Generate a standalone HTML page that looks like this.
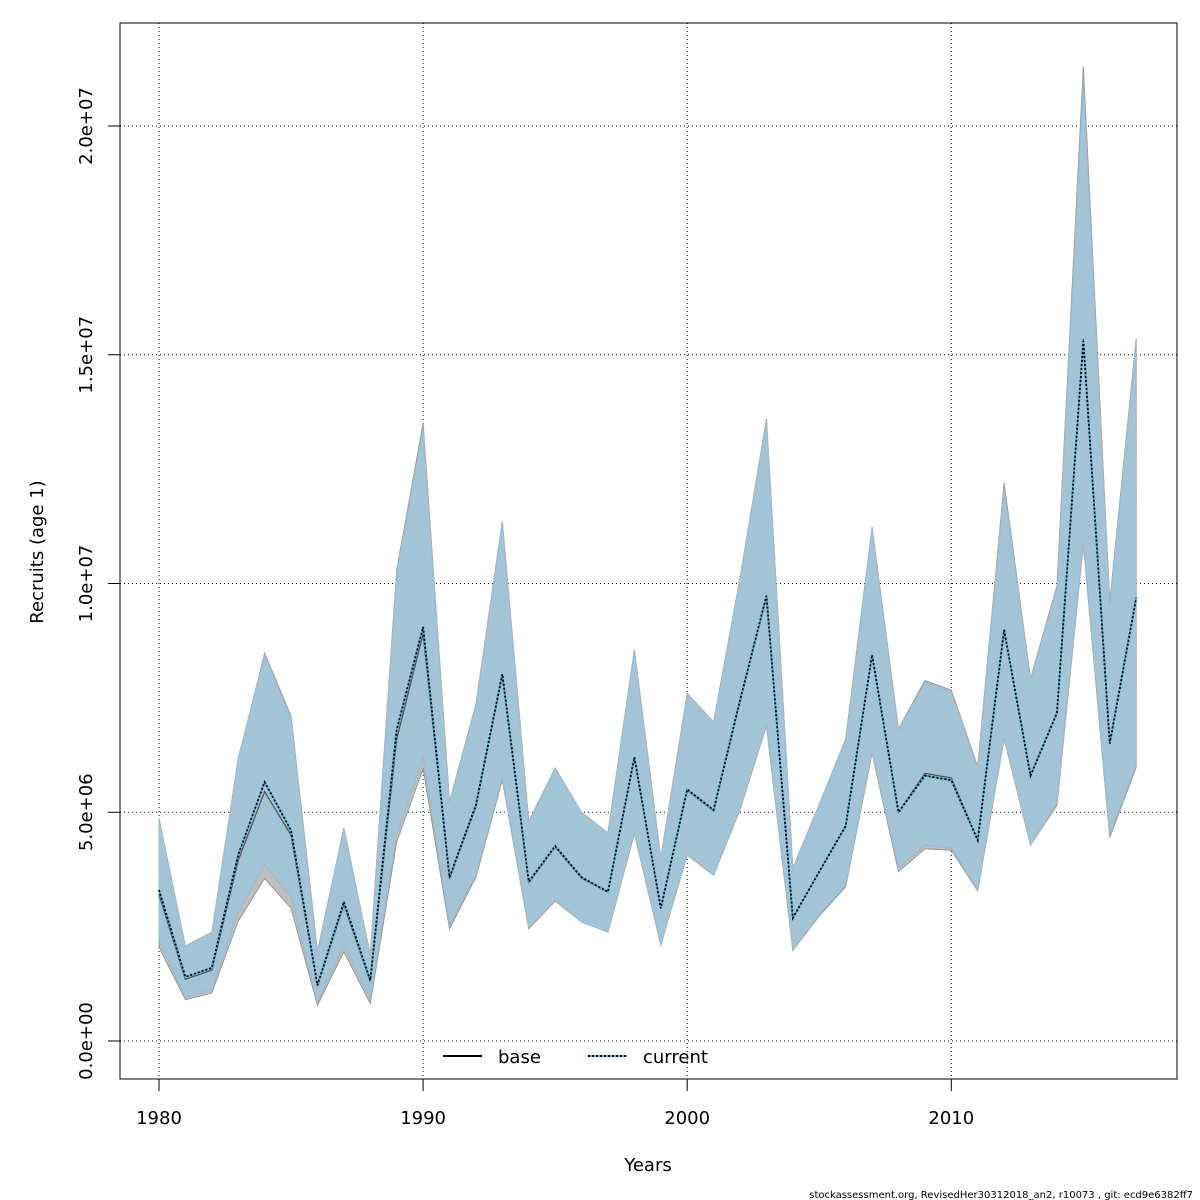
<!DOCTYPE html>
<html><head><meta charset="utf-8"><style>
html,body{margin:0;padding:0;background:#fff;}
svg{display:block;font-family:"DejaVu Sans","Liberation Sans",sans-serif;}
</style></head><body>
<svg id="chart" width="1200" height="1200" viewBox="0 0 1200 1200" xmlns="http://www.w3.org/2000/svg">
<g id="grid"></g>
<g id="bands"></g>
<g id="lines"></g>
<g id="axes"></g>
<rect x="120" y="23" width="1057" height="1056" fill="none" stroke="#000" stroke-width="1"/>
<text x="648" y="1171" font-size="18" text-anchor="middle">Years</text>
<text transform="translate(43,552) rotate(-90)" font-size="18" text-anchor="middle">Recruits (age 1)</text>
<g>
<line x1="443" y1="1056" x2="482" y2="1056" stroke="#000" stroke-width="2"/>
<text x="498" y="1063" font-size="18">base</text>
<line x1="588" y1="1056" x2="627" y2="1056" stroke="#4fb3e0" stroke-width="2"/>
<line x1="588" y1="1056" x2="627" y2="1056" stroke="#000" stroke-width="2" stroke-dasharray="2,2"/>
<text x="643" y="1063" font-size="18">current</text>
</g>
<text x="1193" y="1198" font-size="10" text-anchor="end">stockassessment.org, RevisedHer30312018_an2, r10073 , git: ecd9e6382ff7</text>
</svg>
<script>
const years=[1980,1981,1982,1983,1984,1985,1986,1987,1988,1989,1990,1991,1992,1993,1994,1995,1996,1997,1998,1999,2000,2001,2002,2003,2004,2005,2006,2007,2008,2009,2010,2011,2012,2013,2014,2015,2016,2017];
const currentEst=[3.3,1.4,1.6,4.07,5.66,4.6,1.22,3.04,1.33,6.8,9.05,3.58,5.16,8.02,3.48,4.26,3.58,3.26,6.2,2.9,5.5,5.05,7.45,9.73,2.69,3.7,4.7,8.44,5.0,5.8,5.7,4.39,8.98,5.8,7.17,15.3,6.5,9.68];
const currentHigh=[4.87,2.08,2.38,6.19,8.44,7.06,1.95,4.66,1.88,10.25,13.4,5.22,7.34,11.34,4.79,5.97,5.0,4.55,8.55,4.0,7.6,6.97,10.12,13.57,3.78,5.16,6.58,11.21,6.8,7.83,7.63,5.97,12.1,7.89,9.9,21.0,9.53,15.3];
const currentLow=[2.2,0.95,1.12,2.8,3.85,3.15,0.83,2.1,0.9,4.5,6.2,2.54,3.63,5.75,2.47,3.08,2.6,2.38,4.55,2.1,4.07,3.63,5.05,6.9,1.99,2.75,3.41,6.3,3.78,4.28,4.22,3.3,6.62,4.28,5.2,10.9,4.5,6.03];
const baseEst=[3.2,1.35,1.55,3.95,5.45,4.5,1.2,2.98,1.3,6.6,8.9,3.55,5.12,7.98,3.46,4.24,3.56,3.25,6.18,2.9,5.48,5.03,7.42,9.7,2.68,3.7,4.68,8.42,5.0,5.85,5.75,4.4,9.0,5.82,7.18,15.35,6.55,9.7];
const baseHigh=[4.85,2.05,2.36,6.15,8.48,7.1,1.95,4.65,1.88,10.3,13.5,5.23,7.36,11.36,4.8,5.97,5.0,4.55,8.55,4.0,7.6,6.97,10.12,13.6,3.78,5.17,6.6,11.23,6.82,7.88,7.67,6.0,12.2,7.92,9.95,21.3,9.6,15.35];
const baseLow=[2.05,0.9,1.05,2.62,3.55,2.9,0.78,1.95,0.82,4.35,5.95,2.45,3.58,5.7,2.45,3.06,2.6,2.38,4.53,2.1,4.06,3.62,5.05,6.88,1.98,2.73,3.37,6.28,3.7,4.2,4.17,3.28,6.6,4.28,5.15,10.85,4.45,5.98];
const xTicks=[1980,1990,2000,2010];
const yTicks=[0,5,10,15,20];
const yTickLabels=["0.0e+00","5.0e+06","1.0e+07","1.5e+07","2.0e+07"];

const X=y=>159+(y-1980)*26.41;
const Y=v=>1041-v*45.75;
const NS="http://www.w3.org/2000/svg";
function mk(parent,tag,attrs){const e=document.createElementNS(NS,tag);for(const k in attrs)e.setAttribute(k,attrs[k]);parent.appendChild(e);return e;}
const grid=document.getElementById('grid'),bands=document.getElementById('bands'),lines=document.getElementById('lines'),axes=document.getElementById('axes');
xTicks.forEach(t=>{
  const l=mk(grid,'line',{x1:X(t),x2:X(t),y1:23,y2:1079,stroke:'#000','stroke-width':1,'stroke-dasharray':'1,3'});
  
  
  const tk=mk(axes,'line',{x1:X(t),x2:X(t),y1:1079,y2:1091,stroke:'#000'});
  
  
  const tx=mk(axes,'text',{x:X(t),y:1124,'font-size':18,'text-anchor':'middle'});tx.textContent=t;
  
  
});
mk(axes,'line',{x1:X(1980),x2:X(2010),y1:1079,y2:1079,stroke:'#000'});
yTicks.forEach((t,i)=>{
  const l=mk(grid,'line',{x1:120,x2:1177,y1:Y(t),y2:Y(t),stroke:'#000','stroke-width':1,'stroke-dasharray':'1,3'});
  
  
  const tk=mk(axes,'line',{x1:108,x2:120,y1:Y(t),y2:Y(t),stroke:'#000'});
  
  
  const tx=mk(axes,'text',{transform:`translate(92,${Y(t)}) rotate(-90)`,'font-size':18,'text-anchor':'middle'});tx.textContent=yTickLabels[i];
  
  
});
function band(hi,lo,fill,stroke,name){
  let d='M'+years.map((y,i)=>X(y)+','+Y(hi[i])).join('L');
  d+='L'+years.slice().reverse().map((y,j)=>{const i=years.length-1-j;return X(y)+','+Y(lo[i]);}).join('L')+'Z';
  const p=mk(bands,'path',{d,fill,stroke,'stroke-width':1});
  
  
}
band(baseHigh,baseLow,'#bebebe','#999','base-ci-band');
band(currentHigh,currentLow,'#a3c4d6','#9fb8c8','current-ci-band');
function line(v,attrs,name){
  const p=mk(lines,'polyline',Object.assign({points:years.map((y,i)=>X(y)+','+Y(v[i])).join(' '),fill:'none'},attrs));
  
  
}
line(baseEst,{stroke:'#555','stroke-width':1.3},'base-line');
line(currentEst,{stroke:'#4fb3e0','stroke-width':1.8},'current-line-under');
line(currentEst,{stroke:'#000','stroke-width':1.8,'stroke-dasharray':'2,2'},'current-line');
</script>
</body></html>
